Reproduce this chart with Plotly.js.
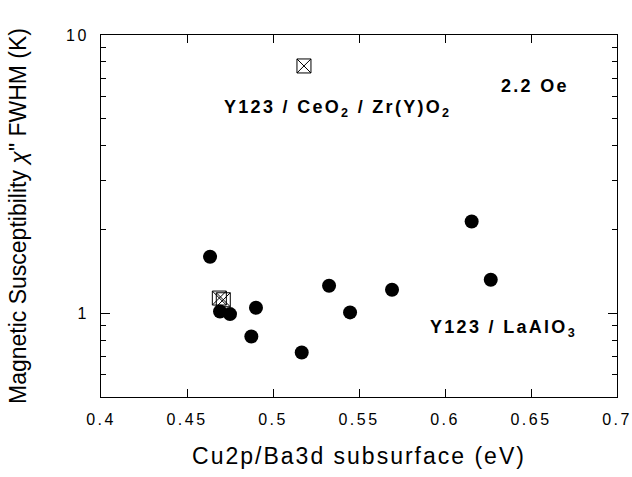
<!DOCTYPE html>
<html>
<head>
<meta charset="utf-8">
<script src="https://cdn.plot.ly/plotly-3.0.1.min.js"></script>
<style>
  html, body { margin: 0; padding: 0; background: #fff; }
  #chart { width: 632px; height: 477px; }
  .xtick text, .ytick text { letter-spacing: 2.5px; }
  .g-xtitle text { letter-spacing: 2px; }
  .annotation-text { letter-spacing: 2.3px; }
</style>
</head>
<body>
<div id="chart"></div>
<script>
// Y123 / LaAlO3 films (filled circles)
const laalo3X = [0.4634, 0.4692, 0.4750, 0.4901, 0.4874, 0.5167, 0.5326, 0.5448, 0.5692, 0.6155, 0.6266];
const laalo3Y = [1.596, 1.015, 0.993, 1.046, 0.825, 0.723, 1.255, 1.007, 1.214, 2.136, 1.319];

// Y123 / CeO2 / Zr(Y)O2 films (boxed crosses)
const ceo2X = [0.4688, 0.4711, 0.5180];
const ceo2Y = [1.134, 1.118, 7.74];

// Axis ticks
const xTickVals = [0.4, 0.45, 0.5, 0.55, 0.6, 0.65, 0.7];
const xTickText = ["0.4", "0.45", "0.5", "0.55", "0.6", "0.65", "0.7"];
const yTickVals = [1, 10];
const yTickText = ["1", "10"];
const yMinorVals = [0.5, 0.6, 0.7, 0.8, 0.9, 2, 3, 4, 5, 6, 7, 8, 9];

const traces = [
  {
    x: laalo3X, y: laalo3Y, type: 'scatter', mode: 'markers', name: 'Y123 / LaAlO3',
    marker: { symbol: 'circle', size: 14, color: '#000' }
  },
  {
    x: ceo2X, y: ceo2Y, type: 'scatter', mode: 'markers', name: 'Y123 / CeO2 / Zr(Y)O2',
    marker: { symbol: 'square-x-open', size: 14, color: '#000', line: { width: 1, color: '#000' } }
  }
];

const tickFont = { family: 'Liberation Sans, Arial, sans-serif', size: 16, color: '#000' };
const annFont = { family: 'Liberation Sans, Arial, sans-serif', size: 18, color: '#000', weight: 'bold' };

const layout = {
  width: 632, height: 477,
  margin: { l: 101, r: 15, t: 35, b: 80 },
  paper_bgcolor: '#fff', plot_bgcolor: '#fff',
  showlegend: false,
  xaxis: {
    range: [0.4, 0.7],
    tickmode: 'array', tickvals: xTickVals, ticktext: xTickText,
    ticks: 'inside', ticklen: 8, tickwidth: 1, tickcolor: '#000',
    showline: true, linecolor: '#000', linewidth: 1, mirror: 'ticks',
    showgrid: false, zeroline: false,
    tickfont: tickFont,
    ticklabelstandoff: 8,
    title: { text: 'Cu2p/Ba3d subsurface (eV)', font: { family: 'Liberation Sans, Arial, sans-serif', size: 23, color: '#000' }, standoff: 20 }
  },
  yaxis: {
    type: 'log', range: [Math.log10(0.5), 1],
    tickmode: 'array', tickvals: yTickVals, ticktext: yTickText,
    ticks: 'inside', ticklen: 9, tickwidth: 1, tickcolor: '#000',
    showline: true, linecolor: '#000', linewidth: 1, mirror: 'ticks',
    showgrid: false, zeroline: false,
    tickfont: tickFont,
    ticklabelstandoff: 8,
    minor: { tickmode: 'array', tickvals: yMinorVals, ticks: 'inside', ticklen: 5, tickcolor: '#000', tickwidth: 1, showgrid: false },
    title: { text: 'Magnetic Susceptibility <i>χ</i>" FWHM (K)', font: { family: 'Liberation Sans, Arial, sans-serif', size: 23, color: '#000' }, standoff: 32 }
  },
  annotations: [
    { xref: 'paper', yref: 'paper', x: 0.459, y: 0.796, xanchor: 'center', yanchor: 'middle', showarrow: false,
      text: 'Y123 / CeO<sub>2</sub> / Zr(Y)O<sub>2</sub>', font: annFont },
    { xref: 'paper', yref: 'paper', x: 0.841, y: 0.859, xanchor: 'center', yanchor: 'middle', showarrow: false,
      text: '2.2 Oe', font: annFont },
    { xref: 'paper', yref: 'paper', x: 0.781, y: 0.188, xanchor: 'center', yanchor: 'middle', showarrow: false,
      text: 'Y123 / LaAlO<sub>3</sub>', font: annFont }
  ]
};

Plotly.newPlot('chart', traces, layout, { displayModeBar: false, staticPlot: true });
</script>
</body>
</html>
